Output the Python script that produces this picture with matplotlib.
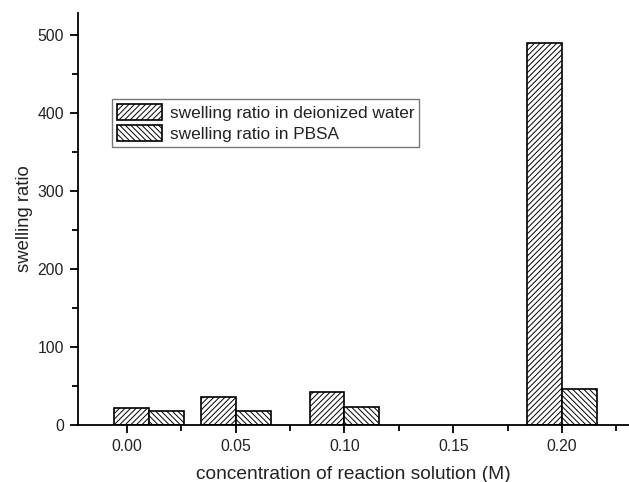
import numpy as np
import matplotlib
matplotlib.use("Agg")
import matplotlib.pyplot as plt
from matplotlib.ticker import MultipleLocator, FormatStrFormatter

# swelling ratio of the gels vs. concentration of the reaction solution
concentration = [0.01, 0.05, 0.10, 0.20]
ratio_water = [22, 35.5, 42.7, 490]
ratio_pbsa = [18, 17.5, 22.6, 46]

plt.rcParams['font.family'] = ['Liberation Sans', 'DejaVu Sans']
plt.rcParams['hatch.linewidth'] = 0.7
plt.rcParams['hatch.color'] = '#444444'
txt = '#222222'

fig = plt.figure(figsize=(6.29, 4.82), dpi=100)
ax = fig.add_axes([78 / 629, 57 / 482, 1 - 78 / 629, (425 - 13) / 482])

w = 0.016
x = np.array(concentration)
ax.bar(x - w / 2, ratio_water, width=w, color='white', edgecolor='black',
       linewidth=1.2, hatch='//////', label='swelling ratio in deionized water')
ax.bar(x + w / 2, ratio_pbsa, width=w, color='white', edgecolor='black',
       linewidth=1.2, hatch='\\\\\\\\\\\\', label='swelling ratio in PBSA')

ax.set_xlim(-0.0225, 0.2308)
ax.set_ylim(0, 528)
ax.xaxis.set_major_locator(MultipleLocator(0.05))
ax.xaxis.set_minor_locator(MultipleLocator(0.025))
ax.xaxis.set_major_formatter(FormatStrFormatter('%.2f'))
ax.yaxis.set_major_locator(MultipleLocator(100))
ax.yaxis.set_minor_locator(MultipleLocator(50))

for s in ['top', 'right']:
    ax.spines[s].set_visible(False)
for s in ['left', 'bottom']:
    ax.spines[s].set_linewidth(1.3)

ax.tick_params(which='major', direction='out', length=6, width=1.3,
               labelsize=11.3, labelcolor=txt, pad=4)
ax.tick_params(which='minor', direction='out', length=4, width=1.3)

ax.set_xlabel('concentration of reaction solution (M)', fontsize=13.8,
              labelpad=9, color=txt)
ax.set_ylabel('swelling ratio', fontsize=13.3, labelpad=3, color=txt)

leg = ax.legend(loc='upper left', bbox_to_anchor=(0.0617, 0.791), fontsize=12.4,
                frameon=True, fancybox=False, edgecolor='#555555',
                handlelength=2.6, handleheight=1.0, handletextpad=0.45,
                borderpad=0.3, labelspacing=0.25, borderaxespad=0)
leg.get_frame().set_linewidth(1.0)
for t in leg.get_texts():
    t.set_color(txt)

fig.savefig('out.png', dpi=100)
